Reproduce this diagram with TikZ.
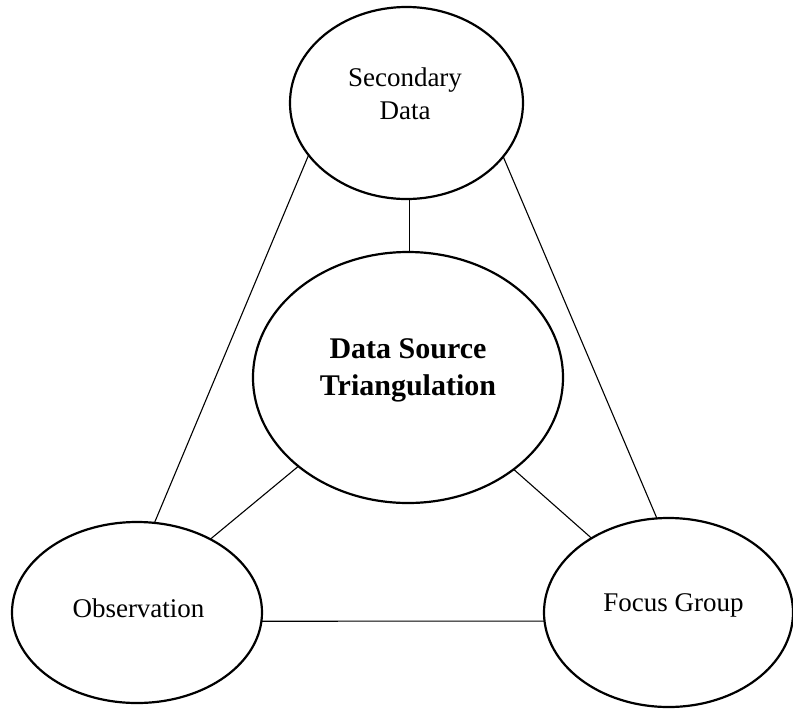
\documentclass[tikz,border=0pt]{standalone}
\usepackage{fontspec}
\setmainfont{Liberation Serif}
\usetikzlibrary{shapes.geometric}

\begin{document}
\begin{tikzpicture}[x=0.5pt,y=-0.5pt]
  \tikzstyle{blob}=[ellipse,draw,line width=1.1pt,inner sep=0pt,outer sep=0pt]
  \tikzstyle{txt}=[align=center,inner sep=0pt,font=\fontsize{13.5}{16.5}\selectfont]
  \tikzstyle{link}=[draw,line width=0.55pt]
  \useasboundingbox (0,0) rectangle (793,713);
  % the four ellipses
  \node [blob,minimum width=116.5pt,minimum height=96pt]  (sec)   at (406.5,103)   {};
  \node [blob,minimum width=155pt,minimum height=125.5pt] (tri)   at (408,377.5)   {};
  \node [blob,minimum width=125pt,minimum height=90.5pt]  (obs)   at (137,612.5)   {};
  \node [blob,minimum width=124.5pt,minimum height=94.5pt] (focus) at (668.5,612.5) {};
  % their texts
  \node [txt] (secText)   at (405,93.3)    {Secondary\\Data};
  \node [txt,font=\fontsize{15}{18.5}\selectfont\bfseries] (triText) at (408,370.6) {Data Source\\Triangulation};
  \node [txt] (obsText)   at (138.5,608)   {Observation};
  \node [txt] (focusText) at (673.5,605.4) {Focus Group};
  % connectors
  \draw [link] (sec.272.7)   -- (sec.272.7 |- tri.north);
  \draw [link] (sec.208.7)   -- (obs.79.9);
  \draw [link] (sec.331.5)   -- (focus.97.5);
  \draw [link] (tri.219.3)   -- (obs.45.8);
  \draw [link] (tri.319.2)   -- (focus.136.5);
  \draw [link] (obs.-4)      -- (focus.184);
\end{tikzpicture}
\end{document}
